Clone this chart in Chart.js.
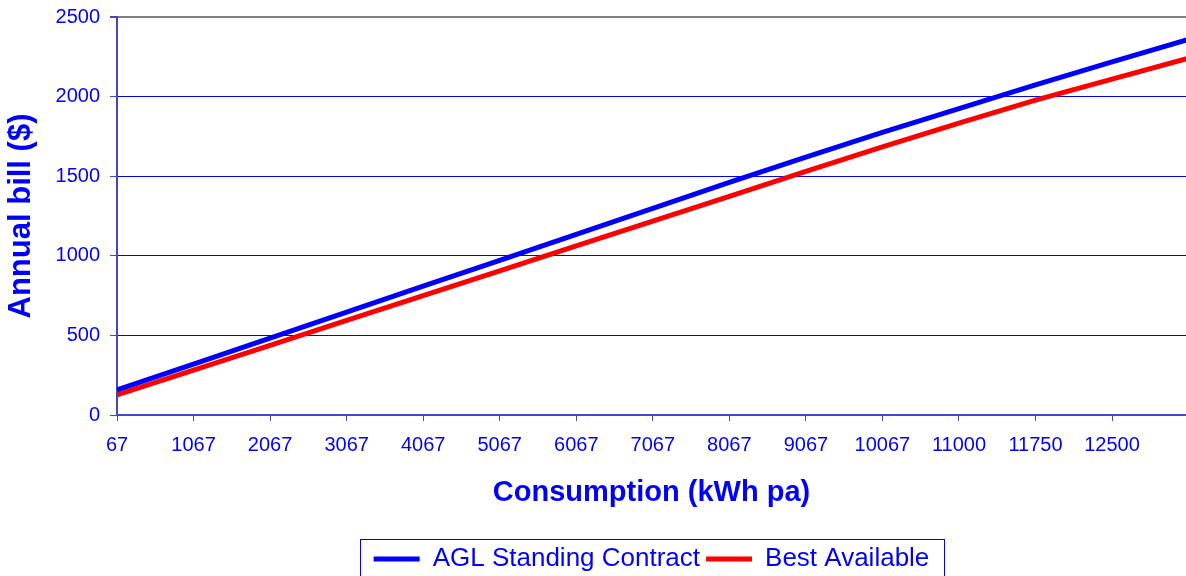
<!DOCTYPE html>
<html>
<head>
<meta charset="utf-8">
<title>Annual bill vs consumption</title>
<script src="https://cdn.jsdelivr.net/npm/chart.js@4/dist/chart.umd.min.js"></script>
<style>
  html, body { margin: 0; padding: 0; background: #ffffff; overflow: hidden; }
  #wrap { width: 1186px; height: 576px; }
</style>
</head>
<body>
<div id="wrap"><canvas id="chart" width="1186" height="576"></canvas></div>
<script>
// Consumption points (kWh per annum) used as category labels
const consumption = [67, 1067, 2067, 3067, 4067, 5067, 6067, 7067, 8067, 9067, 10067, 11000, 11750, 12500, 13250];
// Annual bill ($) for each tariff
const aglStanding = [157, 320, 483, 646, 809, 972, 1135, 1298, 1461, 1620, 1775, 1925, 2074, 2218, 2360];
const bestAvailable = [126, 282, 438, 594, 750, 906, 1062, 1218, 1374, 1530, 1684, 1833, 1978, 2110, 2242];
const seriesNames = ['AGL Standing Contract', 'Best Available'];
const yTicks = [0, 500, 1000, 1500, 2000, 2500];

const BLUE = '#0000ff';
const AXIS = '#4646c8';
const FONT = "'Liberation Sans', Arial, sans-serif";

// Box drawn round the legend entries
const legendFrame = {
  id: 'legendFrame',
  afterDraw(chart) {
    const hb = chart.legend && chart.legend.legendHitBoxes;
    if (!hb || !hb.length) return;
    const ctx = chart.ctx;
    const last = hb[hb.length - 1];
    const left = Math.round(hb[0].left - 14);
    const right = Math.round(last.left + last.width + 15);
    const top = Math.round(hb[0].top - 7);
    ctx.save();
    ctx.strokeStyle = BLUE;
    ctx.lineWidth = 1;
    ctx.strokeRect(left + 0.5, top + 0.5, right - left, chart.height - top + 10);
    ctx.restore();
  }
};

const toPoints = arr => arr.map((v, i) => ({ x: i, y: v }));

new Chart(document.getElementById('chart'), {
  type: 'line',
  data: {
    datasets: [
      {
        label: seriesNames[0],
        data: toPoints(aglStanding),
        borderColor: BLUE,
        backgroundColor: BLUE,
        borderWidth: 5,
        pointRadius: 0,
        tension: 0,
        fill: false
      },
      {
        label: seriesNames[1],
        data: toPoints(bestAvailable),
        borderColor: '#ff0000',
        backgroundColor: '#ff0000',
        borderWidth: 5,
        pointRadius: 0,
        tension: 0,
        fill: false
      }
    ]
  },
  options: {
    responsive: false,
    animation: false,
    devicePixelRatio: 1,
    layout: { padding: { top: 17, right: 0, left: 0, bottom: -6 } },
    plugins: {
      tooltip: { enabled: false },
      legend: {
        position: 'bottom',
        fullSize: false,
        labels: {
          color: BLUE,
          font: { family: FONT, size: 26 },
          boxWidth: 46,
          boxHeight: 5,
          padding: 6,
          generateLabels(chart) {
            return Chart.defaults.plugins.legend.labels.generateLabels(chart)
              .map(item => Object.assign(item, { lineWidth: 0 }));
          }
        }
      }
    },
    scales: {
      x: {
        type: 'linear',
        min: 0,
        max: 13.966,
        afterFit(scale) { scale.height = 125; },
        border: { display: true, color: AXIS, width: 2 },
        grid: {
          drawOnChartArea: false,
          drawTicks: true,
          tickLength: 6,
          tickColor: AXIS,
          tickWidth: 1
        },
        ticks: {
          stepSize: 1,
          includeBounds: false,
          autoSkip: false,
          maxRotation: 0,
          padding: 12,
          color: BLUE,
          font: { family: FONT, size: 20 },
          callback: v => (Number.isInteger(v) && consumption[v] !== undefined) ? String(consumption[v]) : ''
        },
        title: {
          display: true,
          text: 'Consumption (kWh pa)',
          color: BLUE,
          font: { family: FONT, size: 29, weight: 'bold' },
          padding: { top: 0, bottom: 30 }
        }
      },
      y: {
        min: yTicks[0],
        max: yTicks[yTicks.length - 1],
        afterFit(scale) {
          scale.width = 117;
          scale.paddingTop = 0;
          scale.paddingBottom = 0;
        },
        afterBuildTicks(scale) { scale.ticks = yTicks.map(v => ({ value: v })); },
        border: { display: true, color: AXIS, width: 2 },
        grid: {
          drawTicks: true,
          tickLength: 7,
          tickColor: AXIS,
          color: ctx => (ctx.tick && ctx.tick.value === yTicks[yTicks.length - 1]) ? '#808080' : BLUE,
          lineWidth: ctx => (ctx.tick && ctx.tick.value === yTicks[yTicks.length - 1]) ? 2 : 1
        },
        ticks: {
          padding: 10,
          color: BLUE,
          font: { family: FONT, size: 20 },
          callback: v => String(v)
        },
        title: {
          display: true,
          text: 'Annual bill ($)',
          color: BLUE,
          font: { family: FONT, size: 31, weight: 'bold' },
          padding: { top: 3, bottom: 0 }
        }
      }
    }
  },
  plugins: [legendFrame]
});
</script>
</body>
</html>
